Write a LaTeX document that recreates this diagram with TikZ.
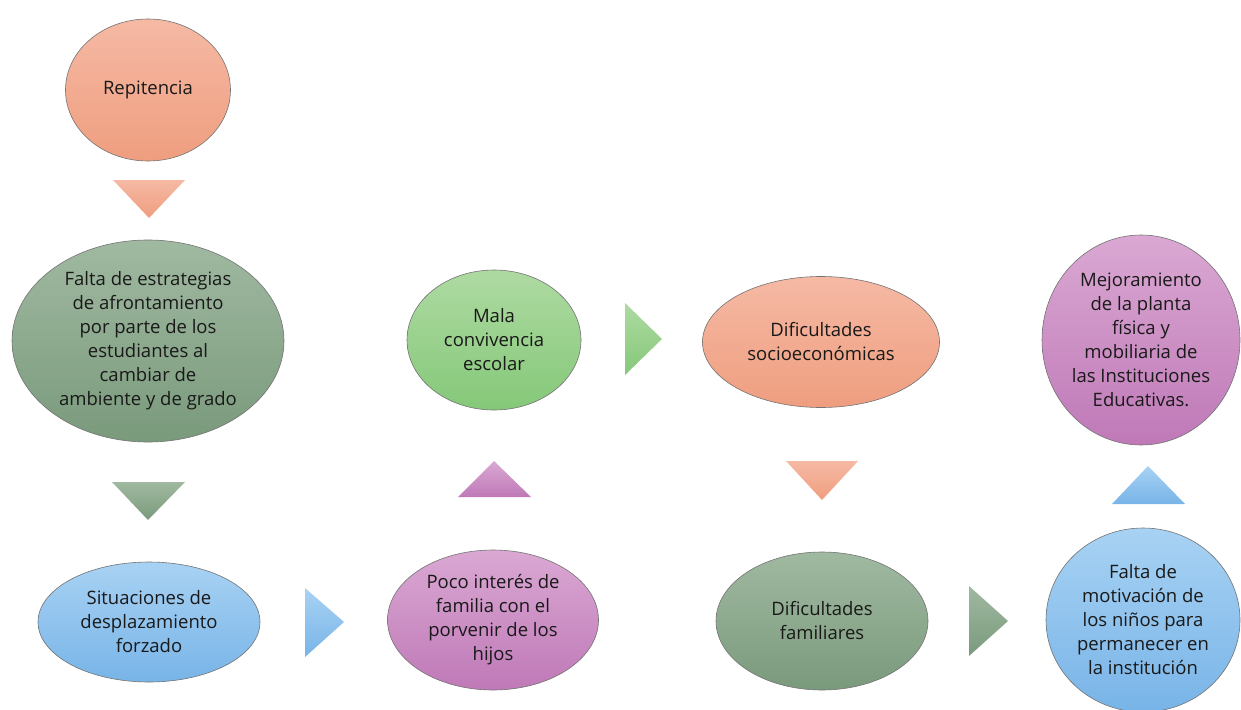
\documentclass[tikz,border=0pt]{standalone}
\usepackage{fontspec}
\setmainfont{Open Sans}
\usetikzlibrary{shapes.geometric}
\definecolor{salT}{HTML}{F5B9A4}\definecolor{salB}{HTML}{EF9E7F}
\definecolor{ggT}{HTML}{A0B9A1}\definecolor{ggB}{HTML}{7A9A7C}
\definecolor{blT}{HTML}{A8D2F3}\definecolor{blB}{HTML}{78B4E8}
\definecolor{grT}{HTML}{AEDAA2}\definecolor{grB}{HTML}{85C879}
\definecolor{puT}{HTML}{DAA8D3}\definecolor{puB}{HTML}{BF79B7}
\tikzset{
  bub/.style={ellipse, inner sep=0pt, align=center, draw=black!55, line width=0.6pt,
    font=\fontsize{18.5}{24}\selectfont, text=black!90},
  sal/.style={shading=axis, top color=salT, bottom color=salB},
  gg/.style={shading=axis, top color=ggT, bottom color=ggB},
  bl/.style={shading=axis, top color=blT, bottom color=blB},
  gr/.style={shading=axis, top color=grT, bottom color=grB},
  pu/.style={shading=axis, top color=puT, bottom color=puB},
}
\begin{document}
\begin{tikzpicture}[x=1pt,y=-1pt]
\useasboundingbox (0,0) rectangle (1241,709);
% nodes
\node[bub,sal,minimum width=165pt,minimum height=142pt] (rep) at (148,90) {Repitencia};
\node[bub,gg,minimum width=272pt,minimum height=202pt] (fal) at (148,341)
  {Falta de estrategias\\de afrontamiento\\por parte de los\\estudiantes al\\cambiar de\\ambiente y de grado};
\node[bub,bl,minimum width=222pt,minimum height=120pt] (sit) at (149,622)
  {Situaciones de\\desplazamiento\\forzado};
\node[bub,gr,minimum width=174pt,minimum height=140pt] (mal) at (494,340)
  {Mala\\convivencia\\escolar};
\node[bub,pu,minimum width=211pt,minimum height=140pt] (poc) at (493,620)
  {Poco interés de\\familia con el\\porvenir de los\\hijos};
\node[bub,sal,minimum width=237pt,minimum height=131pt] (soc) at (821,342)
  {Dificultades\\socioeconómicas};
\node[bub,gg,minimum width=212pt,minimum height=138pt] (fam) at (822,621)
  {Dificultades\\familiares};
\node[bub,pu,minimum width=198pt,minimum height=210pt] (mej) at (1141,340)
  {Mejoramiento\\de la planta\\física y\\mobiliaria de\\las Instituciones\\Educativas.};
\node[bub,bl,minimum width=194pt,minimum height=184pt] (mot) at (1143,620)
  {Falta de\\motivación de\\los niños para\\permanecer en\\la institución};
% triangles
\shade[sal] (113,180) -- (185,180) -- (149,218) -- cycle;
\shade[gg] (112,482) -- (185,482) -- (148,520) -- cycle;
\shade[bl] (305,588) -- (344,622) -- (305,657) -- cycle;
\shade[pu] (458,497) -- (494,461) -- (531,497) -- cycle;
\shade[gr] (625,303) -- (662,339) -- (625,375) -- cycle;
\shade[sal] (786,461) -- (858,461) -- (822,500) -- cycle;
\shade[gg] (969,586) -- (1008,621) -- (969,656) -- cycle;
\shade[bl] (1112,504) -- (1148,466) -- (1185,504) -- cycle;
\end{tikzpicture}
\end{document}
